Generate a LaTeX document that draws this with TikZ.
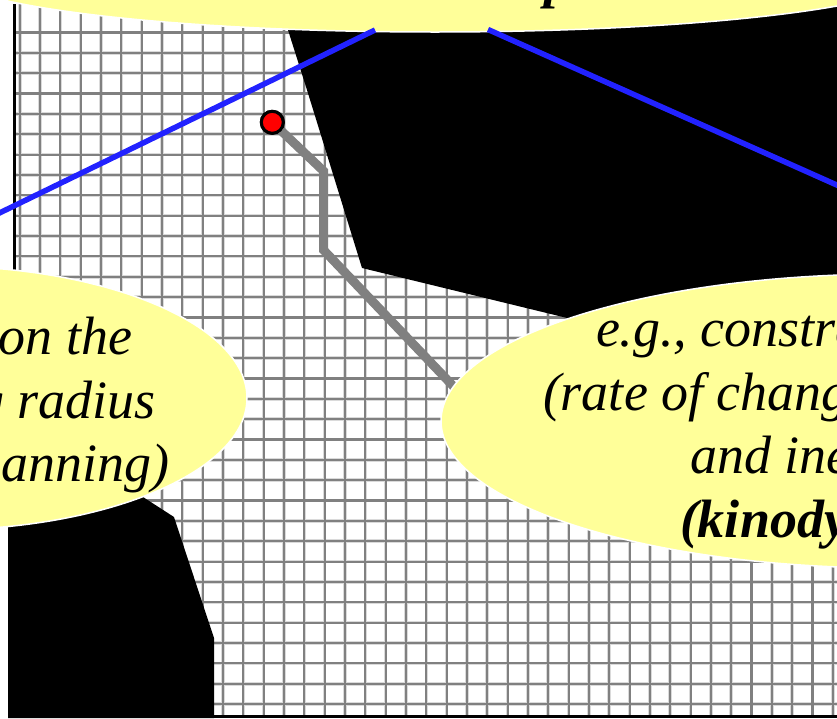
\documentclass[tikz,border=0pt]{standalone}
\usepackage{fontspec}
\setmainfont{Liberation Serif}
\usetikzlibrary{shapes.geometric}
\definecolor{noteyellow}{HTML}{FFFF99}
\definecolor{rayblue}{HTML}{2222FF}
\definecolor{gridgray}{HTML}{808080}
\definecolor{gridhalo}{HTML}{DADADA}
\tikzset{
  x=1pt,y=-1pt,
  gridhalobase/.style={draw=gridhalo,line width=3.6pt},
  gridline/.style={draw=gridgray,line width=2.2pt},
  border/.style={draw=black,line width=3pt},
  obstacle/.style={fill=black,draw=none},
  note/.style={ellipse,fill=noteyellow,draw=white,line width=1.5pt,inner sep=0pt,outer sep=0pt},
  rayline/.style={draw=rayblue,line width=5.5pt},
  route/.style={draw=gridgray,line width=9pt,line join=miter},
  robot/.style={circle,fill=red,draw=black,line width=3pt,minimum size=22pt,inner sep=0pt},
  notetext/.style={font=\fontsize{54}{64}\selectfont\itshape,inner sep=0pt,outer sep=0pt,text=black},
  noteboldtext/.style={font=\fontsize{54}{64}\selectfont\itshape\bfseries,inner sep=0pt,outer sep=0pt,text=black},
}
\begin{document}
\begin{tikzpicture}
\useasboundingbox (0,0) rectangle (837,718);
\clip (0,0) rectangle (837,718);
% grid: soft edge first, then the dark core, so crossings stay dark
\foreach \k in {0,...,40}{\draw[gridhalobase] ({19.7+20.33*\k},4) -- ({19.7+20.33*\k},716);}
\foreach \k in {0,...,33}{\draw[gridhalobase] (14,{32.5+20.35*\k}) -- (837,{32.5+20.35*\k});}
\foreach \k in {0,...,40}{\draw[gridline] ({19.7+20.33*\k},4) -- ({19.7+20.33*\k},716);}
\foreach \k in {0,...,33}{\draw[gridline] (14,{32.5+20.35*\k}) -- (837,{32.5+20.35*\k});}
% borders
\draw[border] (14,4) -- (14,272);
\draw[border] (8,716.6) -- (837,716.6);
% obstacles
\fill[obstacle] (280,0) -- (288,30) -- (307,90) -- (362,268) -- (600,326) -- (837,326) -- (837,0) -- cycle;
\fill[obstacle] (8,718) -- (8,500) -- (143,497) -- (174,517) -- (214,638) -- (214,718) -- cycle;
% route
\node[robot] (start) at (272.3,122.3) {};
\coordinate (r1) at (323.5,171);
\coordinate (r2) at (323.5,250);
\coordinate (rend) at (455,388);
\draw[route] (start) -- (r1) -- (r2) -- (rend);
\node[robot] at (start) {};
% notes
\node[note,minimum width=976pt,minimum height=120pt] (topnote) at (435,-28) {};
\node[note,minimum width=620pt,minimum height=264pt] (leftnote) at (-63,398) {};
\node[note,minimum width=902pt,minimum height=294pt] (rightnote) at (892,421) {};
% rays
\coordinate (leftray) at (-2,213.7);
\coordinate (rightray) at (839,186);
\coordinate (raya) at (375,30);
\coordinate (rayb) at (488,29.5);
\draw[rayline] (raya) -- (leftray);
\draw[rayline] (rayb) -- (rightray);
% text
\node[noteboldtext,anchor=base west] (ptext) at (544,-3) {p};
\node[notetext,anchor=base east] (l1) at (132,354) {on the};
\node[notetext,anchor=base east] (l2) at (156,418) {g radius};
\node[notetext,anchor=base east] (l3) at (169,481) {lanning)};
\node[notetext,anchor=base west] (r1t) at (596,346) {e.g., constra};
\node[notetext,anchor=base west] (r2t) at (543,410) {(rate of chang};
\node[notetext,anchor=base west] (r3t) at (690,473) {and ine};
\node[noteboldtext,anchor=base west] (r4t) at (680,537) {(kinody};
\end{tikzpicture}
\end{document}
